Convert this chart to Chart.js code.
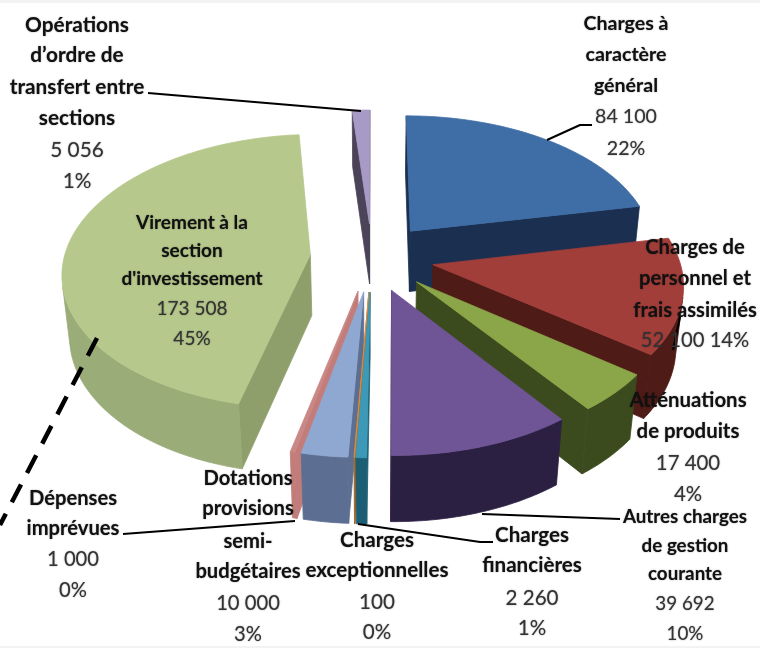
<!DOCTYPE html>
<html><head><meta charset="utf-8">
<style>html,body{margin:0;padding:0;background:#fff}canvas{display:block}</style>
<script src="https://cdn.jsdelivr.net/npm/chart.js@4/dist/chart.umd.min.js"></script>
</head><body><canvas id="c" width="760" height="648"></canvas>
<script>
const categories = ["Charges à caractère général","Charges de personnel et frais assimilés","Atténuations de produits","Autres charges de gestion courante","Charges financières","Charges exceptionnelles","Dotations provisions semi-budgétaires","Dépenses imprévues","Virement à la section d'investissement","Opérations d'ordre de transfert entre sections"];
const values = [84100,52100,17400,39692,2260,100,10000,1000,173508,5056];
const percents = ["22%","14%","4%","10%","1%","0%","3%","0%","45%","1%"];
const topColors  = ["#3F6DA6","#A23E3A","#8BA648","#6F5496","#3C9AB8","#DE8B3C","#8FA8D2","#C98886","#B6C88C","#A89AC6"];
const wallColors = ["#1B2F50","#4E1B17","#3B4B1E","#2C2042","#1C5F75","#A8682A","#5C6F92","#C27C7A","#8F9F6C","#4B4358"];
const rimColors  = ["#1D3354","#4E1B17","#3B4B1E","#2C2042","#1C5F75","#A8682A","#5C6F92","#C27C7A","#9AAC78","#4B4358"];
const labelLines = [["Charges à","caractère","général"],["Charges de","personnel et","frais assimilés"],["Atténuations","de produits"],["Autres charges","de gestion","courante"],["Charges","financières"],["Charges","exceptionnelles"],["Dotations","provisions","semi-","budgétaires"],["Dépenses","imprévues"],["Virement à la","section","d'investissement"],["Opérations","d’ordre de","transfert entre","sections"]];
const labelX = [626,695,688,685,532,377,248,73,192,77];
const labelY = [[24,55,86,117,149],[247,278,310,340],[400,431,463,494],[517,546,574,604,634],[535,565,598,628],[540,570,602,632],[478,508,541,571,603,634],[498,528,559,590],[223,251,279,309,339],[25,55,87,118,150,181]];
const labelSize = [19.6,20.2,20.4,18.8,20.6,20.6,20.2,20.2,19,20.8];
const leaders = [[[592,125],[580,125],[547,140]],[[123,534],[295,521]],[[493,542],[480,542],[358,524]],[[620,519],[482,514]],[[148,93],[361,111]],[[680,317],[673,350]]];
const dashLine = [[97,338],[0,525]];
const explode = 62, pieRadius = 246, thickness = 75;
const tiltSin = 0.551, tiltCos = 0.835, camDist = 1663;
const fmt = v => String(v).replace(/\B(?=(\d{3})+$)/g,' ');
function project(el,X,Y,Z){
  const d = 1 + (Y*tiltCos - Z*tiltSin)/camDist;
  return [el.x + X/d, el.y - (Y*tiltSin + Z*tiltCos)/d];
}
function fillPoly(ctx,pts,color){
  ctx.beginPath();pts.forEach((p,i)=>i?ctx.lineTo(p[0],p[1]):ctx.moveTo(p[0],p[1]));ctx.closePath();
  ctx.fillStyle=color;ctx.strokeStyle=color;ctx.lineWidth=0.8;ctx.fill();ctx.stroke();
}
const camY = -camDist*tiltCos;
function faces(X,Y,nx,ny){ return (0-X)*nx + (camY-Y)*ny > 0; }
const pie3d = {
  id:'pie3d',
  beforeDatasetsDraw(chart){
    const ctx = chart.ctx, arcs = chart.getDatasetMeta(0).data;
    const slices = arcs.map((el,i)=>{
      const mid=(el.startAngle+el.endAngle)/2, ox=Math.cos(mid)*explode, oy=-Math.sin(mid)*explode;
      return {el,i,mid,ox,oy};
    }).sort((a,b)=>b.oy-a.oy);
    ctx.save();
    for(const s of slices){
      const {el,i,ox,oy}=s, r=el.outerRadius;
      const n=Math.max(2,Math.ceil((el.endAngle-el.startAngle)/0.015));
      const rim=[];
      for(let k=0;k<=n;k++){const a=el.startAngle+(el.endAngle-el.startAngle)*k/n;rim.push([ox+Math.cos(a)*r,oy-Math.sin(a)*r,a]);}
      const wall=(A,B,c)=>fillPoly(ctx,[project(el,A[0],A[1],0),project(el,B[0],B[1],0),project(el,B[0],B[1],-thickness),project(el,A[0],A[1],-thickness)],c);
      const ap=[ox,oy];
      const sa=el.startAngle, ea=el.endAngle;
      if(faces(ox,oy,Math.sin(sa),Math.cos(sa))) wall(ap,rim[0],wallColors[i]);
      if(faces(ox,oy,-Math.sin(ea),-Math.cos(ea))) wall(ap,rim[n],wallColors[i]);
      const vis=[];
      for(let k=0;k<=n;k++){
        const a=rim[k][2];
        if(faces(rim[k][0],rim[k][1],Math.cos(a),-Math.sin(a))) vis.push(rim[k]);
      }
      if(vis.length>1){
        const upper=vis.map(p=>project(el,p[0],p[1],0));
        const lower=vis.map(p=>project(el,p[0],p[1],-thickness)).reverse();
        fillPoly(ctx,upper.concat(lower),rimColors[i]);
      }
      fillPoly(ctx,[project(el,ox,oy,0)].concat(rim.map(p=>project(el,p[0],p[1],0))),topColors[i]);
    }
    ctx.restore();
    return false;
  },
  afterDraw(chart){
    const ctx=chart.ctx;
    ctx.save();
    ctx.fillStyle='#f3f3f3';ctx.fillRect(0,0,760,3);ctx.fillRect(0,646,760,2);
    ctx.strokeStyle='#000';ctx.lineWidth=2;ctx.lineJoin='round';
    leaders.forEach(l=>{ctx.beginPath();l.forEach((p,i)=>i?ctx.lineTo(p[0],p[1]):ctx.moveTo(p[0],p[1]));ctx.stroke();});
    ctx.lineWidth=4.5;ctx.setLineDash([20,13]);
    ctx.beginPath();ctx.moveTo(dashLine[0][0],dashLine[0][1]);ctx.lineTo(dashLine[1][0],dashLine[1][1]);ctx.stroke();
    ctx.setLineDash([]);
    ctx.textAlign='center';ctx.textBaseline='middle';
    ctx.shadowColor='rgba(0,0,0,0.45)';ctx.shadowBlur=1.5;
    categories.forEach((c,i)=>{
      const names=labelLines[i], ys=labelY[i], size=labelSize[i];
      names.forEach((t,k)=>{ctx.font='bold '+size+'px Lato';ctx.fillStyle='#111';ctx.fillText(t,labelX[i],ys[k]);});
      ctx.font=size+'px Lato';ctx.fillStyle='#333';
      if(ys.length===names.length+1){ctx.fillText(fmt(values[i])+' '+percents[i],labelX[i],ys[names.length]);}
      else{ctx.fillText(fmt(values[i]),labelX[i],ys[names.length]);ctx.fillText(percents[i],labelX[i],ys[names.length+1]);}
    });
    ctx.restore();
  }
};
new Chart(document.getElementById('c'),{
  type:'pie',
  data:{labels:categories,datasets:[{data:values,backgroundColor:topColors,offset:explode,borderWidth:0,radius:pieRadius}]},
  options:{responsive:false,animation:false,radius:pieRadius,
    layout:{padding:{right:16,bottom:134}},
    plugins:{legend:{display:false},tooltip:{enabled:false}}},
  plugins:[pie3d]
});
</script></body></html>
